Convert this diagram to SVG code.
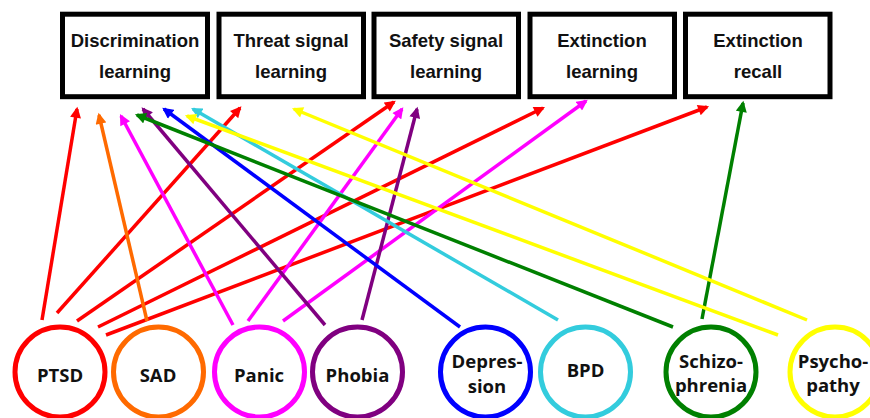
<svg xmlns="http://www.w3.org/2000/svg" width="870" height="418" viewBox="0 0 870 418">
<style>
.box{fill:#fff;stroke:#000;stroke-width:5}
.bt{font-family:"Liberation Sans",Arial,sans-serif;font-weight:bold;font-size:18.5px;text-anchor:middle;fill:#111}
.c{fill:#fff;stroke-width:5}
.ct{font-family:"Open Sans","Noto Sans",sans-serif;font-weight:bold;font-size:18.5px;text-anchor:middle;fill:#111}
.ln{stroke-width:3.5;fill:none}
</style>
<defs>
<marker id="aR" viewBox="0 0 10 10" refX="8" refY="5" markerWidth="12" markerHeight="11" markerUnits="userSpaceOnUse" orient="auto"><path d="M0,0L10,5L0,10z" fill="#FF0000"/></marker>
<marker id="aO" viewBox="0 0 10 10" refX="8" refY="5" markerWidth="12" markerHeight="11" markerUnits="userSpaceOnUse" orient="auto"><path d="M0,0L10,5L0,10z" fill="#FF6A00"/></marker>
<marker id="aM" viewBox="0 0 10 10" refX="8" refY="5" markerWidth="12" markerHeight="11" markerUnits="userSpaceOnUse" orient="auto"><path d="M0,0L10,5L0,10z" fill="#FF00FF"/></marker>
<marker id="aP" viewBox="0 0 10 10" refX="8" refY="5" markerWidth="12" markerHeight="11" markerUnits="userSpaceOnUse" orient="auto"><path d="M0,0L10,5L0,10z" fill="#800080"/></marker>
<marker id="aB" viewBox="0 0 10 10" refX="8" refY="5" markerWidth="12" markerHeight="11" markerUnits="userSpaceOnUse" orient="auto"><path d="M0,0L10,5L0,10z" fill="#0000FF"/></marker>
<marker id="aC" viewBox="0 0 10 10" refX="8" refY="5" markerWidth="12" markerHeight="11" markerUnits="userSpaceOnUse" orient="auto"><path d="M0,0L10,5L0,10z" fill="#33CCDD"/></marker>
<marker id="aG" viewBox="0 0 10 10" refX="8" refY="5" markerWidth="12" markerHeight="11" markerUnits="userSpaceOnUse" orient="auto"><path d="M0,0L10,5L0,10z" fill="#008000"/></marker>
<marker id="aY" viewBox="0 0 10 10" refX="8" refY="5" markerWidth="12" markerHeight="11" markerUnits="userSpaceOnUse" orient="auto"><path d="M0,0L10,5L0,10z" fill="#FFFF00"/></marker>
</defs>

<g id="box-discrimination"><rect class="box" x="62.5" y="14.2" width="145" height="82.5"/><text class="bt" x="135" y="47">Discrimination</text><text class="bt" x="135" y="78">learning</text></g>
<g id="box-threat"><rect class="box" x="219" y="14.2" width="144.5" height="82.5"/><text class="bt" x="291" y="47">Threat signal</text><text class="bt" x="291" y="78">learning</text></g>
<g id="box-safety"><rect class="box" x="374" y="14.2" width="144.5" height="82.5"/><text class="bt" x="446" y="47">Safety signal</text><text class="bt" x="446" y="78">learning</text></g>
<g id="box-extinction"><rect class="box" x="530" y="14.2" width="144.5" height="82.5"/><text class="bt" x="602" y="47">Extinction</text><text class="bt" x="602" y="78">learning</text></g>
<g id="box-recall"><rect class="box" x="685.5" y="14.2" width="144.5" height="82.5"/><text class="bt" x="758" y="47">Extinction</text><text class="bt" x="758" y="78">recall</text></g>

<g id="connectors">
<line class="ln" stroke="#FF0000" x1="42" y1="320" x2="77" y2="109" marker-end="url(#aR)"/>
<line class="ln" stroke="#FF0000" x1="57" y1="313" x2="240" y2="108" marker-end="url(#aR)"/>
<line class="ln" stroke="#FF0000" x1="77" y1="321" x2="394" y2="102" marker-end="url(#aR)"/>
<line class="ln" stroke="#FF0000" x1="98" y1="327" x2="543" y2="108" marker-end="url(#aR)"/>
<line class="ln" stroke="#FF0000" x1="106" y1="335" x2="707" y2="107" marker-end="url(#aR)"/>
<line class="ln" stroke="#FF6A00" x1="147" y1="321" x2="99" y2="115" marker-end="url(#aO)"/>
<line class="ln" stroke="#FF00FF" x1="233" y1="325" x2="121" y2="116" marker-end="url(#aM)"/>
<line class="ln" stroke="#FF00FF" x1="248" y1="321" x2="402" y2="109" marker-end="url(#aM)"/>
<line class="ln" stroke="#FF00FF" x1="283" y1="321" x2="586" y2="101" marker-end="url(#aM)"/>
<line class="ln" stroke="#800080" x1="325" y1="325" x2="143" y2="109" marker-end="url(#aP)"/>
<line class="ln" stroke="#800080" x1="362" y1="320" x2="417" y2="109" marker-end="url(#aP)"/>
<line class="ln" stroke="#0000FF" x1="460" y1="327" x2="164" y2="109" marker-end="url(#aB)"/>
<line class="ln" stroke="#33CCDD" x1="558" y1="320" x2="193" y2="109" marker-end="url(#aC)"/>
<line class="ln" stroke="#008000" x1="673" y1="327" x2="137" y2="115" marker-end="url(#aG)"/>
<line class="ln" stroke="#008000" x1="702" y1="319" x2="743" y2="103" marker-end="url(#aG)"/>
<line class="ln" stroke="#FFFF00" x1="778" y1="335" x2="187" y2="116" marker-end="url(#aY)"/>
<line class="ln" stroke="#FFFF00" x1="807" y1="320" x2="294" y2="109" marker-end="url(#aY)"/>
</g>

<g id="node-ptsd"><circle class="c" stroke="#FF0000" cx="60" cy="372" r="45"/><text class="ct" x="60" y="382">PTSD</text></g>
<g id="node-sad"><circle class="c" stroke="#FF6A00" cx="158.5" cy="372" r="45"/><text class="ct" x="158" y="382">SAD</text></g>
<g id="node-panic"><circle class="c" stroke="#FF00FF" cx="259.5" cy="372" r="45"/><text class="ct" x="259" y="382">Panic</text></g>
<g id="node-phobia"><circle class="c" stroke="#800080" cx="357.5" cy="372" r="45"/><text class="ct" x="357.5" y="382">Phobia</text></g>
<g id="node-depression"><circle class="c" stroke="#0000FF" cx="485.5" cy="372" r="45"/><text class="ct" x="487" y="368">Depres-</text><text class="ct" x="487" y="393">sion</text></g>
<g id="node-bpd"><circle class="c" stroke="#33CCDD" cx="585.5" cy="372" r="45"/><text class="ct" x="585.5" y="377">BPD</text></g>
<g id="node-schizophrenia"><circle class="c" stroke="#008000" cx="711" cy="372" r="45"/><text class="ct" x="711" y="368">Schizo-</text><text class="ct" x="711" y="392">phrenia</text></g>
<g id="node-psychopathy"><circle class="c" stroke="#FFFF00" cx="835" cy="372" r="45"/><text class="ct" x="833" y="368">Psycho-</text><text class="ct" x="833" y="392">pathy</text></g>
</svg>
